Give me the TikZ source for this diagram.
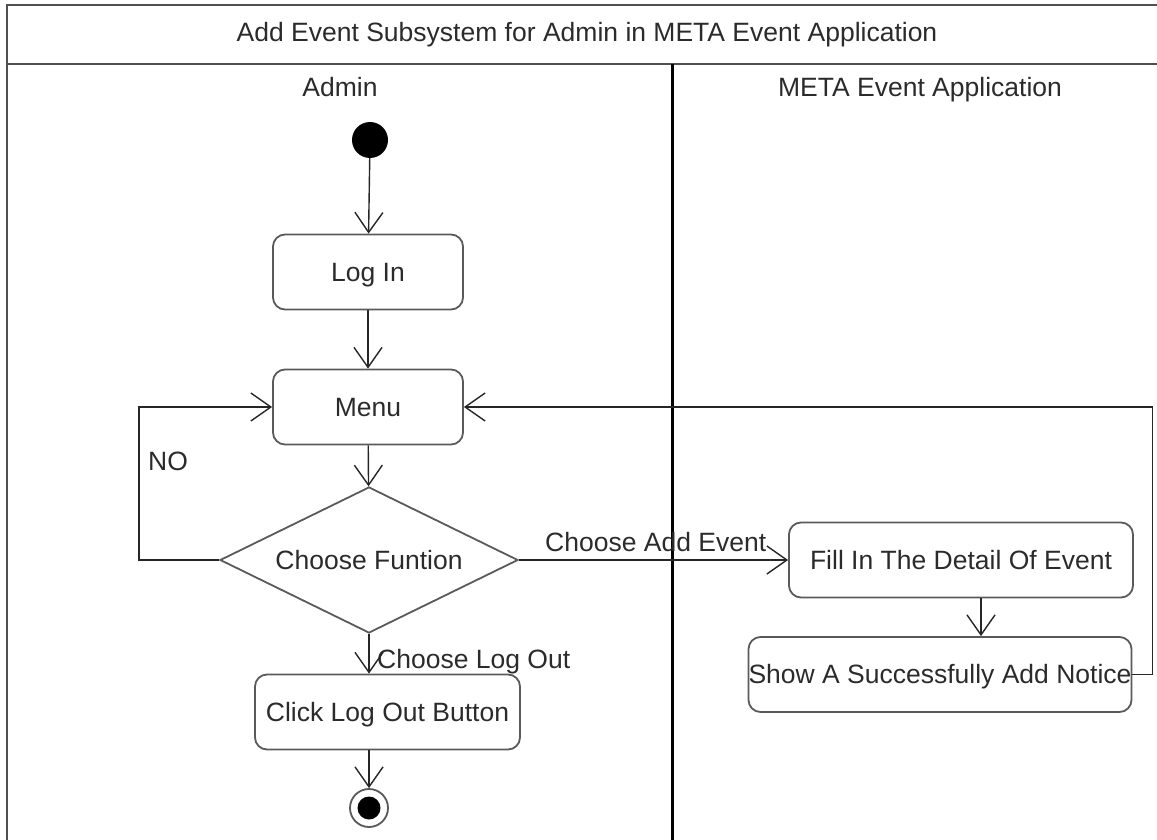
\documentclass[tikz,border=0pt]{standalone}
\usepackage{fontspec}
\setmainfont{Liberation Sans}
\usetikzlibrary{arrows.meta,shapes.geometric,calc}
\definecolor{boxline}{HTML}{5A5A5A}
\definecolor{txt}{HTML}{2B2B2B}
\definecolor{frameline}{HTML}{505050}
\begin{document}
\begin{tikzpicture}[x=1pt,y=-1pt,
  every node/.style={font=\fontsize{26.5}{31}\selectfont, text=txt, text height=21pt, text depth=3pt},
  act/.style={draw=boxline, line width=1.8pt, rounded corners=12pt, rectangle, inner sep=0pt, minimum height=75pt},
  decision/.style={draw=boxline, line width=1.8pt, diamond, aspect=2.04, inner sep=0pt, minimum width=298pt, minimum height=146pt},
  flow/.style={draw=black!85, line width=1.4pt, -{Straight Barb[length=20pt,width=28pt,line width=1.4pt]}},
  lbl/.style={inner sep=0pt, anchor=west},
  frame/.style={draw=frameline, line width=2.8pt}
]
\useasboundingbox (0,0) rectangle (1157,840);
% frame
\draw[frame] (7,840) -- (7,5) -- (1157,5);
\draw[frame] (7,64) -- (1157,64);
\draw[draw=black, line width=3pt] (672,64) -- (672,840);
\node (title) at (587,33) {Add Event Subsystem for Admin in META Event Application};
\node (laneA) at (340,88) {Admin};
\node (laneB) at (920,88) {META Event Application};
% nodes
\node[circle, fill=black, inner sep=0pt, minimum size=36pt, text height=, text depth=] (start) at (370,140) {};
\node[act, minimum width=190pt] (login) at (368,272) {Log In};
\node[act, minimum width=190pt] (menu) at (368,407) {Menu};
\node[decision] (choose) at (369,560) {Choose Funtion};
\node[act, minimum width=265pt] (click) at (387.5,712) {Click Log Out Button};
\node[circle, draw=boxline, line width=1.8pt, inner sep=0pt, minimum size=38pt, text height=, text depth=] (endn) at (369,808) {};
\node[circle, fill=black, inner sep=0pt, minimum size=23pt, text height=, text depth=] (endin) at (369,808) {};
\node[act, minimum width=344pt] (fill) at (961,560) {Fill In The Detail Of Event};
\node[act, minimum width=380pt] (show) at (940,674.5) {Show A Successfully Add Notice};
% labels
\node[lbl] (lno) at (148,461) {NO};
\node[lbl] (ladd) at (545,542) {Choose Add Event};
\node[lbl] (lout) at (377,659) {Choose Log Out};
% connectors
\draw[flow] (start) -- (login);
\draw[flow] (login) -- (menu);
\draw[flow] (menu) -- (choose);
\draw[flow] (choose.south) -- (choose.south |- click.north);
\draw[flow] (click.south -| endn) -- (endn);
\draw[flow] (choose.west) -- ++(-80,0) |- (menu.west);
\draw[flow] (choose.east) -- (fill.west);
\draw[flow] ([xshift=20pt]fill.south) -- ([xshift=20pt]fill.south |- show.north);
\draw[flow] (show.east) -- ++(20,0) |- (menu.east);
\end{tikzpicture}
\end{document}
